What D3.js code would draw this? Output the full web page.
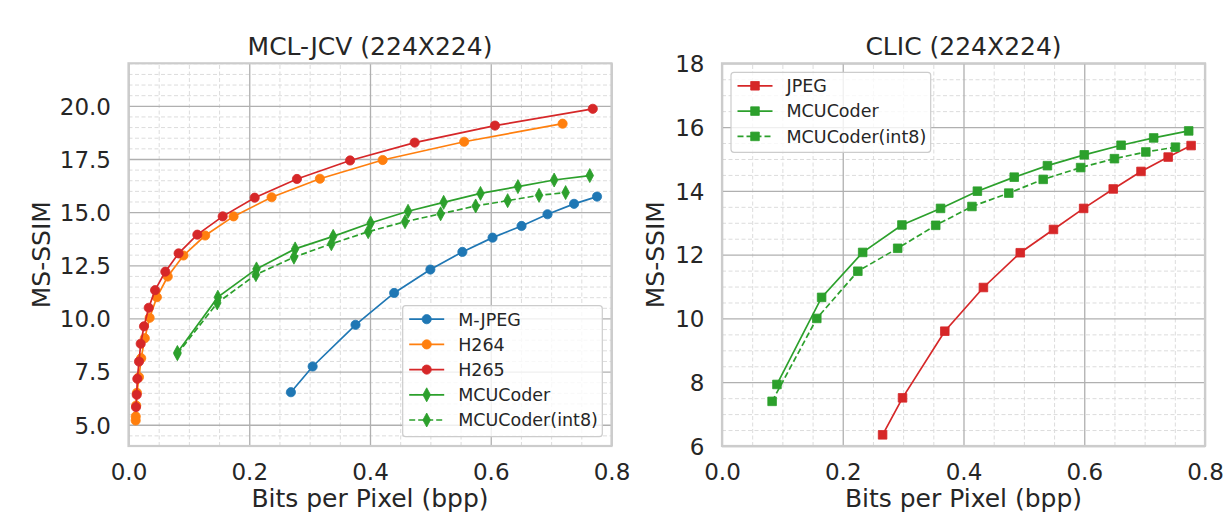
<!DOCTYPE html>
<html><head><meta charset="utf-8">
<script src="https://cdn.jsdelivr.net/npm/d3@7"></script>
<style>
body{margin:0;background:#fff}
svg{display:block}
text{font-family:"DejaVu Sans",sans-serif;fill:#262626}
</style>
</head><body>
<svg id="chart" width="1223" height="519"></svg>
<script>
// ---------- data ----------
const xTicks = [0.0, 0.2, 0.4, 0.6, 0.8];
const mclYTicks = [5.0, 7.5, 10.0, 12.5, 15.0, 17.5, 20.0];
const clicYTicks = [6, 8, 10, 12, 14, 16, 18];

const mclTitle = "MCL-JCV (224X224)";
const clicTitle = "CLIC (224X224)";
const xLabel = "Bits per Pixel (bpp)";
const yLabel = "MS-SSIM";

// MCL-JCV
const mjpegX = [0.269, 0.305, 0.376, 0.440, 0.500, 0.553, 0.603, 0.651, 0.694, 0.738, 0.776];
const mjpegY = [6.53, 7.74, 9.70, 11.20, 12.30, 13.13, 13.80, 14.35, 14.90, 15.39, 15.73];

const h264X = [0.0119, 0.0120, 0.0128, 0.0140, 0.0174, 0.021, 0.027, 0.035, 0.047, 0.065, 0.091, 0.127, 0.174, 0.237, 0.317, 0.421, 0.556, 0.719];
const h264Y = [5.20, 5.39, 5.90, 6.50, 7.24, 8.13, 9.07, 10.03, 11.00, 11.97, 12.96, 13.90, 14.80, 15.70, 16.57, 17.45, 18.31, 19.16];

const h265X = [0.0124, 0.0136, 0.0146, 0.0174, 0.0202, 0.0257, 0.0335, 0.044, 0.061, 0.083, 0.114, 0.156, 0.209, 0.279, 0.367, 0.474, 0.607, 0.769];
const h265Y = [5.83, 6.41, 7.16, 7.97, 8.81, 9.63, 10.50, 11.33, 12.20, 13.06, 13.94, 14.80, 15.68, 16.56, 17.43, 18.27, 19.07, 19.86];

const mcuMclX = [0.081, 0.148, 0.212, 0.276, 0.339, 0.401, 0.463, 0.522, 0.583, 0.645, 0.705, 0.764];
const mcuMclY = [8.40, 11.00, 12.33, 13.27, 13.86, 14.49, 15.04, 15.46, 15.88, 16.20, 16.51, 16.72];

const mcu8MclX = [0.081, 0.147, 0.211, 0.274, 0.336, 0.397, 0.458, 0.517, 0.575, 0.628, 0.680, 0.724];
const mcu8MclY = [8.34, 10.73, 12.06, 12.88, 13.51, 14.08, 14.55, 14.92, 15.29, 15.54, 15.79, 15.92];

// CLIC
const jpegX = [0.266, 0.299, 0.369, 0.433, 0.494, 0.549, 0.599, 0.648, 0.694, 0.739, 0.777];
const jpegY = [6.35, 7.51, 9.60, 10.97, 12.06, 12.79, 13.45, 14.06, 14.61, 15.06, 15.42];

const mcuClicX = [0.091, 0.165, 0.233, 0.298, 0.362, 0.423, 0.484, 0.539, 0.600, 0.661, 0.715, 0.773];
const mcuClicY = [7.93, 10.66, 12.07, 12.93, 13.45, 13.99, 14.43, 14.79, 15.13, 15.43, 15.66, 15.88];

const mcu8ClicX = [0.083, 0.157, 0.225, 0.291, 0.354, 0.414, 0.475, 0.532, 0.594, 0.650, 0.702, 0.751];
const mcu8ClicY = [7.40, 10.00, 11.48, 12.20, 12.92, 13.51, 13.93, 14.36, 14.73, 15.01, 15.22, 15.37];

// ---------- styles ----------
const C = {blue:"#1f77b4", orange:"#ff7f0e", green:"#2ca02c", red:"#d62728"};

const zip = (xs, ys) => xs.map((x, i) => ({x, y: ys[i]}));

const panels = [
  {
    title: mclTitle, left: 128.5, right: 611.5, top: 63.3, bottom: 446,
    yDomain: [4, 22], yTicks: mclYTicks, yFmt: d3.format(".1f"), yLabelX: 50,
    series: [
      {name:"M-JPEG", color:C.blue, marker:"circle", dash:null, data: zip(mjpegX, mjpegY)},
      {name:"H264", color:C.orange, marker:"circle", dash:null, data: zip(h264X, h264Y)},
      {name:"H265", color:C.red, marker:"circle", dash:null, data: zip(h265X, h265Y)},
      {name:"MCUCoder", color:C.green, marker:"thindiamond", dash:null, data: zip(mcuMclX, mcuMclY)},
      {name:"MCUCoder(int8)", color:C.green, marker:"thindiamond", dash:"6,3", data: zip(mcu8MclX, mcu8MclY)}
    ],
    legend: {x: 402.7, y: 305.7, w: 199.6, h: 131, firstY: 319.2, step: 25.2}
  },
  {
    title: clicTitle, left: 722, right: 1205, top: 63.3, bottom: 446,
    yDomain: [6, 18], yTicks: clicYTicks, yFmt: d3.format("d"), yLabelX: 664,
    series: [
      {name:"JPEG", color:C.red, marker:"square", dash:null, data: zip(jpegX, jpegY)},
      {name:"MCUCoder", color:C.green, marker:"square", dash:null, data: zip(mcuClicX, mcuClicY)},
      {name:"MCUCoder(int8)", color:C.green, marker:"square", dash:"6,3", data: zip(mcu8ClicX, mcu8ClicY)}
    ],
    legend: {x: 731, y: 72.3, w: 199.7, h: 80, firstY: 85.8, step: 25.3}
  }
];

const svg = d3.select("#chart");

function markerPath(type) {
  if (type === "circle") return d3.symbol(d3.symbolCircle, Math.PI * 4.6 * 4.6)();
  if (type === "square") return "M-4.3,-4.3H4.3V4.3H-4.3Z";
  // thin diamond
  return "M0,-7L3.8,0L0,7L-3.8,0Z";
}

panels.forEach(p => {
  const W = p.right - p.left, H = p.bottom - p.top;
  const g = svg.append("g").attr("transform", `translate(${p.left},${p.top})`);
  const x = d3.scaleLinear().domain([0, 0.8]).range([0, W]);
  const y = d3.scaleLinear().domain(p.yDomain).range([H, 0]);

  // minor grid
  const xMinor = d3.range(0, 0.8001, 0.05).filter(v => Math.abs(v / 0.2 - Math.round(v / 0.2)) > 1e-6);
  const yStep = p.yTicks[1] - p.yTicks[0];
  const yMinor = d3.range(p.yDomain[0], p.yDomain[1] + 1e-6, 0.5)
    .filter(v => Math.abs((v - p.yTicks[0]) / yStep - Math.round((v - p.yTicks[0]) / yStep)) > 1e-6);

  const minorX = g.append("g").attr("transform", `translate(0,${H})`)
    .call(d3.axisBottom(x).tickValues(xMinor).tickSize(-H).tickFormat(""));
  const minorY = g.append("g")
    .call(d3.axisLeft(y).tickValues(yMinor).tickSize(-W).tickFormat(""));
  [minorX, minorY].forEach(a => {
    a.select(".domain").remove();
    a.selectAll("line").attr("stroke", "#dcdcdc").attr("stroke-width", 1).attr("stroke-dasharray", "4,2.5");
  });

  // major grid + labels
  const majX = g.append("g").attr("transform", `translate(0,${H})`)
    .call(d3.axisBottom(x).tickValues(xTicks).tickSize(-H).tickPadding(0).tickFormat(d3.format(".1f")));
  const majY = g.append("g")
    .call(d3.axisLeft(y).tickValues(p.yTicks).tickSize(-W).tickPadding(0).tickFormat(p.yFmt));
  [majX, majY].forEach(a => {
    a.select(".domain").remove();
    a.selectAll("line").attr("stroke", "#b0b0b0").attr("stroke-width", 1.3);
    a.selectAll("text").attr("font-family", "DejaVu Sans").attr("font-size", 23).attr("fill", "#262626");
  });
  majX.selectAll("text").attr("dy", null).attr("y", 33.5);
  majY.selectAll("text").attr("x", -17.5).attr("dy", "0.36em");

  // frame
  g.append("rect").attr("width", W).attr("height", H)
    .attr("fill", "none").attr("stroke", "#cccccc").attr("stroke-width", 2.2);

  // series
  const line = d3.line().x(d => x(d.x)).y(d => y(d.y));
  p.series.forEach(s => {
    g.append("path").datum(s.data).attr("d", line)
      .attr("fill", "none").attr("stroke", s.color).attr("stroke-width", 1.7)
      .attr("stroke-dasharray", s.dash);
    g.append("g").selectAll("path").data(s.data).join("path")
      .attr("transform", d => `translate(${x(d.x)},${y(d.y)})`)
      .attr("d", markerPath(s.marker)).attr("fill", s.color).attr("stroke", s.color).attr("stroke-width", 0.8);
  });

  // title and axis labels
  svg.append("text").attr("x", p.left + W / 2).attr("y", 55).attr("text-anchor", "middle")
    .attr("font-size", 25).text(p.title);
  svg.append("text").attr("x", p.left + W / 2).attr("y", 507).attr("text-anchor", "middle")
    .attr("font-size", 25).text(xLabel);
  svg.append("text").attr("transform", `translate(${p.yLabelX},${p.top + H / 2}) rotate(-90)`)
    .attr("text-anchor", "middle").attr("font-size", 25).text(yLabel);

  // legend
  const L = p.legend;
  const lg = svg.append("g");
  lg.append("rect").attr("x", L.x).attr("y", L.y).attr("width", L.w).attr("height", L.h)
    .attr("rx", 3).attr("fill", "#ffffff").attr("fill-opacity", 0.8)
    .attr("stroke", "#cccccc").attr("stroke-width", 1.2);
  p.series.forEach((s, i) => {
    const cy = L.firstY + i * L.step;
    const hx0 = L.x + 6.5, hx1 = L.x + 41.5;
    lg.append("line").attr("x1", hx0).attr("x2", hx1).attr("y1", cy).attr("y2", cy)
      .attr("stroke", s.color).attr("stroke-width", 1.7).attr("stroke-dasharray", s.dash);
    lg.append("path").attr("transform", `translate(${(hx0 + hx1) / 2},${cy})`)
      .attr("d", markerPath(s.marker)).attr("fill", s.color).attr("stroke", s.color).attr("stroke-width", 0.8);
    lg.append("text").attr("x", L.x + 55.5).attr("y", cy).attr("dy", "0.36em")
      .attr("font-size", 17.5).text(s.name);
  });
});
</script>
</body></html>
